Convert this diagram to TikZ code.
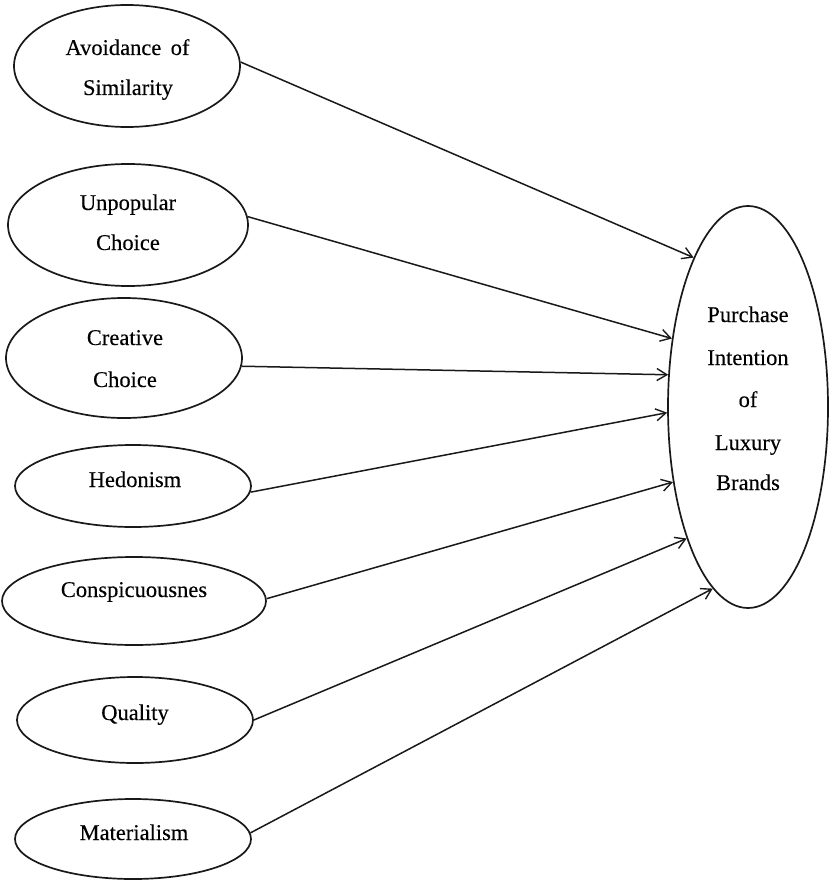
\documentclass[tikz,border=0pt]{standalone}
\usepackage{fontspec}
\setmainfont{Liberation Serif}[FakeBold=0.25]
\usetikzlibrary{shapes.geometric,arrows.meta}

\begin{document}
\begin{tikzpicture}[x=1pt,y=-1pt,
  construct/.style={draw=black!90, line width=1.7pt, ellipse, inner sep=0pt},
  txt/.style={anchor=base, inner sep=0pt, text=black,
              font=\rmfamily\fontsize{22.5}{27}\selectfont},
  link/.style={draw=black!90, line width=1.5pt,
               -{Straight Barb[length=10pt,width=12pt,line width=1.4pt]}}]
\useasboundingbox (0,0) rectangle (830,880);

% predictor constructs
\node[construct, minimum width=226pt, minimum height=122pt] (avoid) at (127,66) {};
\node[construct, minimum width=240pt, minimum height=122pt] (unpop) at (128,225) {};
\node[construct, minimum width=236pt, minimum height=120pt] (creat) at (124,358) {};
\node[construct, minimum width=236pt, minimum height=82pt]  (hedon) at (133,486) {};
\node[construct, minimum width=264pt, minimum height=88pt]  (consp) at (134,601) {};
\node[construct, minimum width=236pt, minimum height=86pt]  (qual)  at (135,720) {};
\node[construct, minimum width=236pt, minimum height=80pt]  (mater) at (133,839) {};

% outcome construct
\node[construct, minimum width=160pt, minimum height=402pt] (pi) at (748,407) {};

% labels
\node[txt] (t1a) at (127.5,55) {Avoidance\, of};
\node[txt] (t1b) at (128,95)   {Similarity};
\node[txt] (t2a) at (128,210)  {Unpopular};
\node[txt] (t2b) at (128,250)  {Choice};
\node[txt] (t3a) at (125,345)  {Creative};
\node[txt] (t3b) at (125,387)  {Choice};
\node[txt] (t4)  at (135,487)  {Hedonism};
\node[txt] (t5)  at (134,597)  {Conspicuousnes};
\node[txt] (t6)  at (135,720)  {Quality};
\node[txt] (t7)  at (134,840)  {Materialism};

\node[txt] (p1) at (748,322) {Purchase};
\node[txt] (p2) at (748,365) {Intention};
\node[txt] (p3) at (748,407) {of};
\node[txt] (p4) at (748,450) {Luxury};
\node[txt] (p5) at (748,490) {Brands};

% paths into the outcome
\draw[link] (avoid.2)  -- (pi.110);
\draw[link] (unpop.4)  -- (pi.138);
\draw[link] (creat.-4) -- (pi.158);
\draw[link] (hedon.-3) -- (pi.184);
\draw[link] (consp.1)  -- (pi.225);
\draw[link] (qual.0)   -- (pi.245);
\draw[link] (mater.3)  -- (pi.259);
\end{tikzpicture}
\end{document}
